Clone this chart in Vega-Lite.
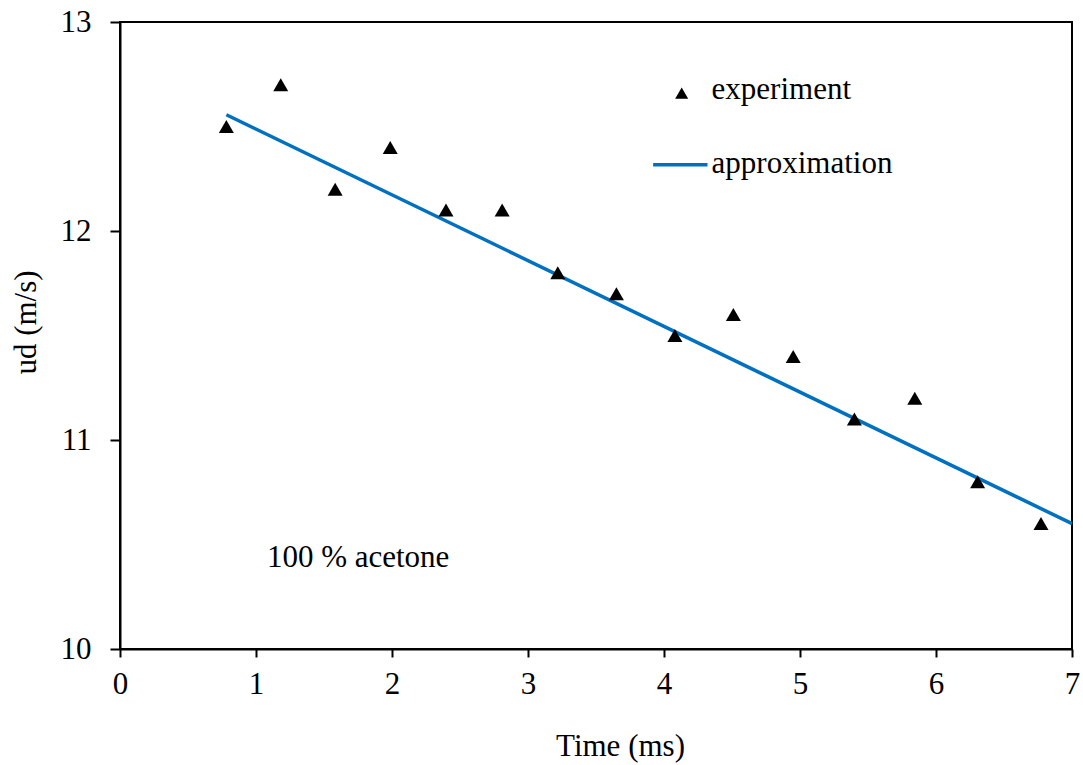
{
  "$schema": "https://vega.github.io/schema/vega-lite/v6.json",
  "autosize": "none",
  "width": 952,
  "height": 627,
  "padding": {"left": 120, "top": 22, "right": 11, "bottom": 116},
  "background": "white",
  "config": {
    "font": "Liberation Serif",
    "view": {"stroke": "black", "strokeWidth": 2},
    "axis": {
      "grid": false,
      "domainColor": "black",
      "domainWidth": 2,
      "tickColor": "black",
      "tickWidth": 2,
      "labelFont": "Liberation Serif",
      "labelFontSize": 31,
      "labelColor": "black",
      "labelFlush": false,
      "labelOverlap": false,
      "titleFont": "Liberation Serif",
      "titleFontSize": 31,
      "titleFontWeight": "normal",
      "titleColor": "black"
    }
  },
  "datasets": {
    "exp": [
      {"t": 0.782, "u": 12.5},
      {"t": 1.182, "u": 12.7},
      {"t": 1.582, "u": 12.2},
      {"t": 1.987, "u": 12.4},
      {"t": 2.397, "u": 12.1},
      {"t": 2.81, "u": 12.1},
      {"t": 3.219, "u": 11.8},
      {"t": 3.65, "u": 11.7},
      {"t": 4.08, "u": 11.5},
      {"t": 4.51, "u": 11.6},
      {"t": 4.95, "u": 11.4},
      {"t": 5.4, "u": 11.1},
      {"t": 5.844, "u": 11.2},
      {"t": 6.306, "u": 10.8},
      {"t": 6.772, "u": 10.6}
    ],
    "fit": [
      {"t": 0.782, "u": 12.556},
      {"t": 7.0, "u": 10.6}
    ],
    "legline": [
      {"t": 3.92, "u": 12.317},
      {"t": 4.32, "u": 12.317}
    ],
    "legsym": [
      {"t": 4.13, "u": 12.66}
    ],
    "labels": [
      {"t": 4.35, "u": 12.632, "label": "experiment"},
      {"t": 4.35, "u": 12.279, "label": "approximation"},
      {"t": 1.08, "u": 10.392, "label": "100 % acetone"}
    ]
  },
  "encoding": {
    "x": {
      "field": "t",
      "type": "quantitative",
      "scale": {"domain": [0, 7], "nice": false, "zero": false},
      "axis": {
        "values": [0, 1, 2, 3, 4, 5, 6, 7],
        "tickSize": 8,
        "labelPadding": 12,
        "title": "Time (ms)",
        "titleX": 500,
        "titleY": 106,
        "titleAlign": "center",
        "titleBaseline": "alphabetic"
      }
    },
    "y": {
      "field": "u",
      "type": "quantitative",
      "scale": {"domain": [10, 13], "nice": false, "zero": false},
      "axis": {
        "values": [10, 11, 12, 13],
        "tickSize": 10,
        "labelPadding": 19,
        "title": "ud (m/s)",
        "titleAngle": -90,
        "titleX": -85,
        "titleY": 300,
        "titleAlign": "center",
        "titleBaseline": "alphabetic"
      }
    }
  },
  "layer": [
    {
      "data": {"name": "fit"},
      "mark": {"type": "line", "color": "#0070C0", "strokeWidth": 3.5}
    },
    {
      "data": {"name": "exp"},
      "mark": {"type": "point", "shape": "triangle-up", "filled": true, "color": "black", "opacity": 1, "size": 225}
    },
    {
      "data": {"name": "legline"},
      "mark": {"type": "line", "color": "#0070C0", "strokeWidth": 3.5}
    },
    {
      "data": {"name": "legsym"},
      "mark": {"type": "point", "shape": "triangle-up", "filled": true, "color": "black", "opacity": 1, "size": 170}
    },
    {
      "data": {"name": "labels"},
      "mark": {"type": "text", "align": "left", "baseline": "alphabetic", "font": "Liberation Serif", "fontSize": 31, "color": "black"},
      "encoding": {"text": {"field": "label", "type": "nominal"}}
    }
  ]
}
